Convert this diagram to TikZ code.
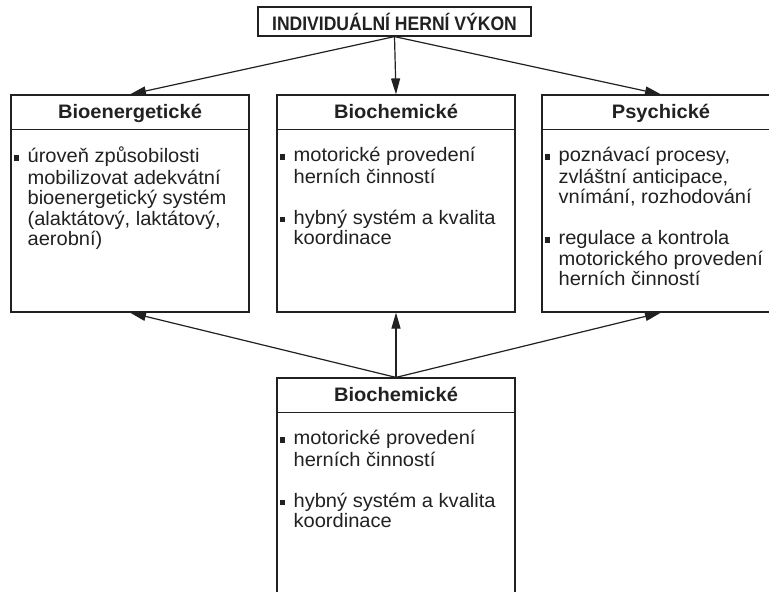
\documentclass[tikz,border=0pt]{standalone}
\usepackage{fontspec}
\setmainfont{Liberation Sans}[FakeStretch=1.03]
\newfontfamily\capsfont{Liberation Sans}[FakeStretch=0.9]
\usetikzlibrary{arrows.meta}
\definecolor{ink}{gray}{0.13}
\newcommand\blt{\makebox[14pt][l]{\rule[2pt]{5.5pt}{5.5pt}}}
\newcommand\indt{\hspace*{14pt}}
\begin{document}
\begin{tikzpicture}[x=1pt,y=-1pt,
    frame/.style={draw=ink,line width=1.2pt},
    panel/.style={frame,minimum width=238pt,minimum height=217pt,inner sep=0pt},
    head/.style={text=ink,anchor=base,inner sep=0pt,font=\bfseries\fontsize{19.5}{21}\selectfont},
    body/.style={text=ink,align=left,inner sep=0pt,anchor=north west,font=\fontsize{19.5}{20.5}\selectfont},
    arr/.style={frame,-{Triangle[length=16pt,width=9pt]}}]
    \useasboundingbox[fill=white] (0,0) rectangle (769,592);
    \clip (0,0) rectangle (769,592);
    \node[frame,text=ink,minimum width=273pt,minimum height=29pt,inner sep=0pt,
          font=\capsfont\bfseries\fontsize{19.5}{21}\selectfont] (perf) at (394.5,21.5) {INDIVIDUÁLNÍ HERNÍ VÝKON};
    \foreach \n/\x/\y/\h in {bioen/130/203.5/Bioenergetické,biochem/396/203.5/Biochemické,
                              psych/661/203.5/Psychické,motor/396/486.5/Biochemické} {
        \node[panel] (\n) at (\x,\y) {};
        \node[head] (\n-h) at ([yshift=-24pt]\n.north) {\h};
        \draw[frame] ([yshift=-35pt]\n.north west) -- ([yshift=-35pt]\n.north east);
    }
    \node[body] (bioen-t) at ([shift={(3pt,-52.65pt)}]bioen.north west)
        {\strut\blt úroveň způsobilosti\\ \indt mobilizovat adekvátní\\ \indt bioenergetický systém\\
         \indt (alaktátový, laktátový,\\ \indt aerobní)};
    \node[body] (biochem-t) at ([shift={(3pt,-52.65pt)}]biochem.north west)
        {\strut\blt motorické provedení\\ \indt herních činností\\[20.5pt]
         \blt hybný systém a kvalita\\ \indt koordinace};
    \node[body] (psych-t) at ([shift={(3pt,-52.65pt)}]psych.north west)
        {\strut\blt poznávací procesy,\\ \indt zvláštní anticipace,\\ \indt vnímání, rozhodování\\[20.5pt]
         \blt regulace a kontrola\\ \indt motorického provedení\\ \indt herních činností};
    \node[body] (motor-t) at ([shift={(3pt,-52.65pt)}]motor.north west)
        {\strut\blt motorické provedení\\ \indt herních činností\\[20.5pt]
         \blt hybný systém a kvalita\\ \indt koordinace};
    % arrows down from the top and up from the bottom box
    \foreach \n in {bioen,biochem,psych} {
        \draw[arr] (perf.south) -- (\n.north);
        \draw[arr] (motor.north) -- (\n.south);
    }
\end{tikzpicture}
\end{document}
